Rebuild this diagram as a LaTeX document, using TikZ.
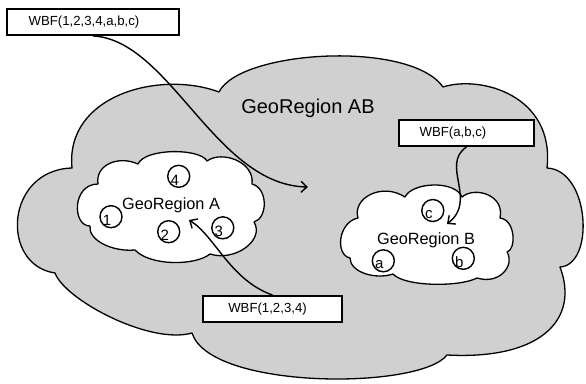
\documentclass[tikz,border=0pt]{standalone}
\usepackage{fontspec}
\setmainfont{Liberation Sans}
\usetikzlibrary{arrows.meta}
\definecolor{cloudgray}{RGB}{208,208,208}
\begin{document}
\begin{tikzpicture}[x=1pt,y=-1pt,
  cloudline/.style={line width=1.3pt, line join=round},
  wbf/.style={draw, line width=1.9pt, fill=white, inner sep=0pt, minimum height=26pt, font=\fontsize{13.2}{15}\selectfont},
  member/.style={circle, draw, line width=1.4pt, minimum size=22pt, inner sep=0pt},
  memlbl/.style={font=\fontsize{15}{17}\selectfont, inner sep=0pt},
  flow/.style={line width=1.4pt, -{Straight Barb[length=6pt,width=11pt]}},
  region/.style={font=\fontsize{16.3}{18}\selectfont, anchor=base, inner sep=0pt}
]
\useasboundingbox (0,0) rectangle (586,383);

% GeoRegion AB (large cloud)
\draw[cloudline, fill=cloudgray]
 (72,168) .. controls (65,95) and (160,70) .. (219,92)
 .. controls (240,50) and (410,40) .. (443,87)
 .. controls (480,75) and (555,95) .. (547,168)
 .. controls (590,170) and (595,265) .. (560,267)
 .. controls (580,320) and (540,360) .. (447,355)
 .. controls (420,390) and (210,390) .. (192,333)
 .. controls (150,345) and (65,300) .. (55,273)
 .. controls (0,265) and (5,170) .. cycle;

% GeoRegion A
\draw[cloudline, fill=white]
 (90,226) .. controls (72,226) and (72,184) .. (98,184)
 .. controls (95,165) and (118,155) .. (138,164)
 .. controls (145,148) and (200,148) .. (207,161)
 .. controls (222,150) and (255,162) .. (252,184)
 .. controls (268,188) and (268,218) .. (254,222)
 .. controls (265,240) and (235,262) .. (210,254)
 .. controls (195,266) and (150,266) .. (135,250)
 .. controls (112,252) and (88,240) .. cycle;

% GeoRegion B
\draw[cloudline, fill=white]
 (350,258) .. controls (335,255) and (338,222) .. (358,218)
 .. controls (352,198) and (382,182) .. (405,197)
 .. controls (412,182) and (455,180) .. (462,197)
 .. controls (475,186) and (505,195) .. (500,218)
 .. controls (516,220) and (516,250) .. (507,252)
 .. controls (515,265) and (500,285) .. (477,278)
 .. controls (460,287) and (405,287) .. (393,274)
 .. controls (375,280) and (350,272) .. cycle;

% region labels
\node[region, font=\fontsize{20}{24}\selectfont] (labAB) at (308,113) {GeoRegion AB};
\node[region] (labA) at (171,209) {GeoRegion A};
\node[region] (labB) at (426,244) {GeoRegion B};

% members
\node[member, label={[memlbl, xshift=-4pt, yshift=-4pt]center:1}] (m1) at (111,216.7) {};
\node[member, label={[memlbl, xshift=-4pt, yshift=-4pt]center:2}] (m2) at (168.7,231.7) {};
\node[member, label={[memlbl, xshift=-4pt, yshift=-4pt]center:3}] (m3) at (222.8,227.8) {};
\node[member, label={[memlbl, xshift=-4pt, yshift=-4pt]center:4}] (m4) at (178.7,176.3) {};
\node[member, label={[memlbl, xshift=-4pt, yshift=-4pt]center:c}] (mc) at (432.8,210.5) {};
\node[member, label={[memlbl, xshift=-4pt, yshift=-4pt]center:a}] (ma) at (383.3,260.8) {};
\node[member, label={[memlbl, xshift=-4pt, yshift=-4pt]center:b}] (mb) at (463.3,258.3) {};

% WBF boxes
\node[wbf, minimum width=172pt] (wtop) at (93,22) {WBF(1,2,3,4,a,b,c)\hspace*{18pt}};
\node[wbf, minimum width=139pt] (wA) at (272.5,309) {WBF(1,2,3,4)\hspace*{10pt}};
\node[wbf, minimum width=135pt] (wB) at (466.5,133) {WBF(a,b,c)\hspace*{27pt}};

% arrow end points
\coordinate (tipAB) at (308,187);
\coordinate (tipA) at (189,220);
\coordinate (tipB) at (447,224);

\draw[flow] (wtop.south) .. controls (170,40) and (215,185) .. (tipAB);
\draw[flow] (wA.north) .. controls (230,280) and (215,236) .. (tipA);
\draw[flow] (wB.south) .. controls (440,165) and (478,200) .. (tipB);
\end{tikzpicture}
\end{document}
